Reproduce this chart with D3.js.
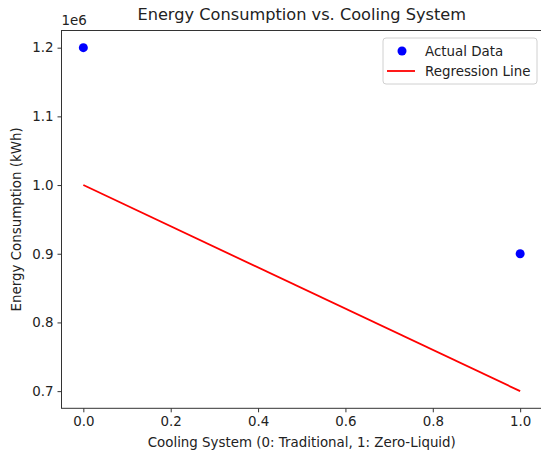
<!DOCTYPE html>
<html><head><meta charset="utf-8">
<script src="https://cdn.jsdelivr.net/npm/d3@7"></script>
<style>body{margin:0;background:#fff}svg{display:block}text{font-family:"DejaVu Sans",sans-serif;fill:#222}</style>
</head><body>
<script>
const categories = [0, 1];
const actualValues = [1200000, 900000];
const regressionX = [0, 1];
const regressionY = [1000000, 700000];
const xTicks = [0.0, 0.2, 0.4, 0.6, 0.8, 1.0];
const yTicks = [0.7, 0.8, 0.9, 1.0, 1.1, 1.2];

const W = 541, H = 453;
const L = 61.5, R = 542, T = 30.5, B = 408.3;
const FS = 13.4;
const svg = d3.select("body").append("svg").attr("width", W).attr("height", H);

const x = d3.scaleLinear().domain([-0.05, 1.05]).range([L, R]);
const y = d3.scaleLinear().domain([0.675e6, 1.225e6]).range([B, T]);

const xAxis = d3.axisBottom(x).tickValues(xTicks).tickFormat(d3.format(".1f")).tickSize(4).tickPadding(4);
const yAxis = d3.axisLeft(y).tickValues(yTicks.map(v => v * 1e6)).tickFormat(v => (v / 1e6).toFixed(1)).tickSize(4).tickPadding(4);

const gx = svg.append("g").attr("transform", `translate(0,${B})`).call(xAxis);
const gy = svg.append("g").attr("transform", `translate(${L},0)`).call(yAxis);
[gx, gy].forEach(g => {
  g.select(".domain").remove();
  g.selectAll(".tick line").attr("stroke", "#333").attr("stroke-width", 1);
  g.selectAll(".tick text").attr("font-size", FS).attr("fill", "#222").style("font-family", '"DejaVu Sans",sans-serif');
});

svg.append("rect").attr("x", L).attr("y", T).attr("width", R - L).attr("height", B - T)
  .attr("fill", "none").attr("stroke", "#333").attr("stroke-width", 1);

svg.append("path")
  .datum(regressionX.map((v, i) => [v, regressionY[i]]))
  .attr("d", d3.line().x(d => x(d[0])).y(d => y(d[1])))
  .attr("stroke", "red").attr("stroke-width", 1.8).attr("fill", "none");

svg.selectAll("circle.pt").data(categories).enter().append("circle")
  .attr("class", "pt")
  .attr("cx", d => x(d)).attr("cy", (d, i) => y(actualValues[i])).attr("r", 4.5)
  .attr("fill", "blue");

svg.append("text").attr("x", (L + R) / 2).attr("y", 20).attr("text-anchor", "middle")
  .attr("font-size", 16.2).text("Energy Consumption vs. Cooling System");
svg.append("text").attr("x", L).attr("y", 25).attr("font-size", FS).text("1e6");
svg.append("text").attr("x", (L + R) / 2).attr("y", 447).attr("text-anchor", "middle")
  .attr("font-size", FS).text("Cooling System (0: Traditional, 1: Zero-Liquid)");
svg.append("text").attr("transform", `translate(21,${(T + B) / 2}) rotate(-90)`).attr("text-anchor", "middle")
  .attr("font-size", FS).text("Energy Consumption (kWh)");

const lg = svg.append("g");
lg.append("rect").attr("x", 383).attr("y", 38).attr("width", 154).attr("height", 46).attr("rx", 3)
  .attr("fill", "#fff").attr("fill-opacity", 0.8).attr("stroke", "#d0d0d0");
lg.append("circle").attr("cx", 402).attr("cy", 51).attr("r", 4.5).attr("fill", "blue");
lg.append("line").attr("x1", 387).attr("x2", 415).attr("y1", 71).attr("y2", 71).attr("stroke", "red").attr("stroke-width", 1.8);
lg.append("text").attr("x", 425).attr("y", 56).attr("font-size", FS).text("Actual Data");
lg.append("text").attr("x", 425).attr("y", 76).attr("font-size", FS).text("Regression Line");
</script>
</body></html>
